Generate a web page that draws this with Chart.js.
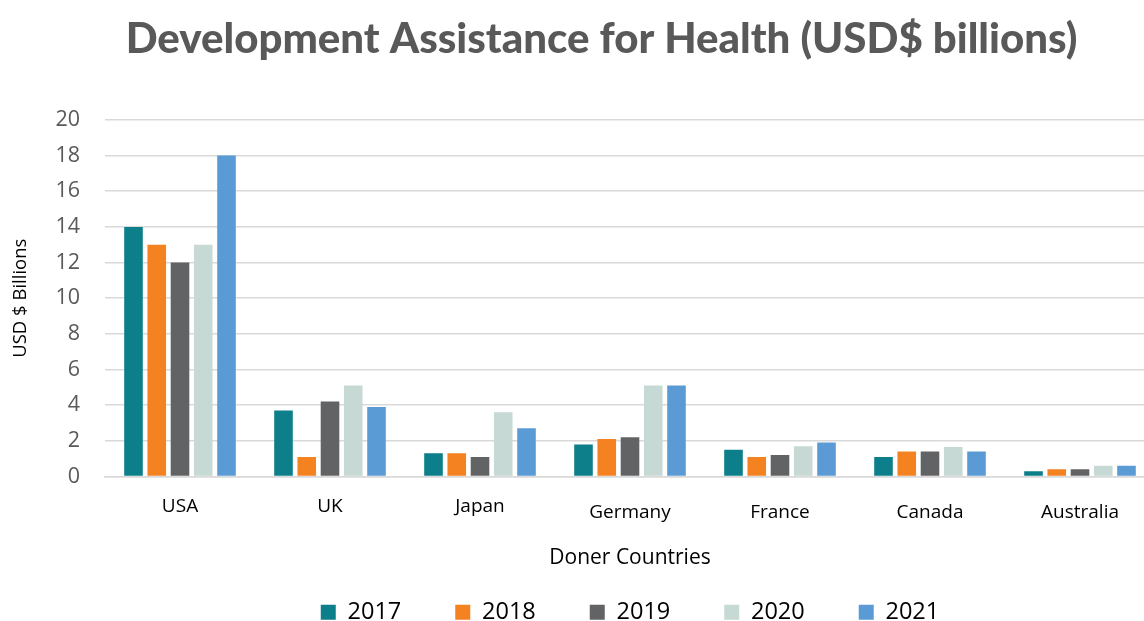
<!DOCTYPE html>
<html>
<head>
<meta charset="utf-8">
<script src="https://cdn.jsdelivr.net/npm/chart.js@4.4.1/dist/chart.umd.min.js"></script>
<style>
  html, body { margin: 0; padding: 0; background: #fff; overflow: hidden; }
  #wrap { width: 1203px; height: 621px; position: relative; }
</style>
</head>
<body>
<div id="wrap"><canvas id="dah-chart"></canvas></div>
<script>
"use strict";

const countries = ["USA", "UK", "Japan", "Germany", "France", "Canada", "Australia"];
const years = ["2017", "2018", "2019", "2020", "2021"];
const values2017 = [14, 3.7, 1.3, 1.8, 1.5, 1.1, 0.3];
const values2018 = [13, 1.1, 1.3, 2.1, 1.1, 1.4, 0.4];
const values2019 = [12, 4.2, 1.1, 2.2, 1.2, 1.4, 0.4];
const values2020 = [13, 5.1, 3.6, 5.1, 1.7, 1.65, 0.6];
const values2021 = [18, 3.9, 2.7, 5.1, 1.9, 1.4, 0.6];
const yearColors = ["#0d7f8b", "#f58220", "#626365", "#c6d9d4", "#5b9bd5"];

const seriesValues = [values2017, values2018, values2019, values2020, values2021];

const datasets = years.map((year, i) => ({
  label: year,
  data: seriesValues[i],
  backgroundColor: yearColors[i],
  borderWidth: 0,
  categoryPercentage: 0.775,
  barPercentage: 0.8,
}));

const ctx = document.getElementById("dah-chart");

new Chart(ctx, {
  type: "bar",
  data: { labels: countries, datasets },
  options: {
    responsive: true,
    maintainAspectRatio: false,
    animation: false,
    layout: { padding: { left: 0, right: 0, top: 0, bottom: -13 } },
    plugins: {
      title: {
        display: true,
        text: "Development Assistance for Health (USD$ billions)",
        color: "#595959",
        font: { family: "Lato", size: 42, weight: 900 },
        padding: { top: 14.5, bottom: 55 },
      },
      legend: {
        position: "bottom",
        fullSize: false,
        labels: {
          boxWidth: 15,
          boxHeight: 15,
          padding: 54,
          color: "#000",
          font: { family: "'Open Sans'", size: 23.5 },
        },
      },
      tooltip: { enabled: false },
    },
    scales: {
      x: {
        grid: { display: false, drawTicks: false },
        border: { display: true, color: "#d9d9d9", width: 1.5 },
        ticks: {
          color: "#000",
          padding: 19,
          // the last four labels sit a few pixels lower
          font: (c) => ({
            family: "'Open Sans'",
            size: 19,
            lineHeight: c.index >= 3 ? 1.83 : 1.2,
          }),
        },
        title: {
          display: true,
          text: "Doner Countries",
          color: "#000",
          font: { family: "'Open Sans'", size: 21 },
          padding: { top: 0, bottom: -24.5 },
        },
        afterFit: (scale) => {
          scale.height = 70;
        },
      },
      y: {
        min: 0,
        max: 20,
        grid: { color: "#d9d9d9", lineWidth: 1.5, drawTicks: false },
        border: { display: false },
        ticks: {
          stepSize: 2,
          color: "#595959",
          padding: 25,
          font: { family: "'Open Sans'", size: 21.5 },
        },
        title: {
          display: true,
          text: "USD $ Billions",
          color: "#000",
          font: { family: "'Open Sans'", size: 18.5 },
          padding: { top: 9.5, bottom: 0 },
        },
        afterFit: (scale) => {
          scale.width = 105;
        },
      },
      // empty right-hand axis that only reserves the margin past the last group
      yRight: {
        position: "right",
        min: 0,
        max: 20,
        grid: { display: false, drawTicks: false },
        border: { display: false },
        ticks: { display: false },
        afterFit: (scale) => {
          scale.width = 48;
        },
      },
    },
  },
});
</script>
</body>
</html>
